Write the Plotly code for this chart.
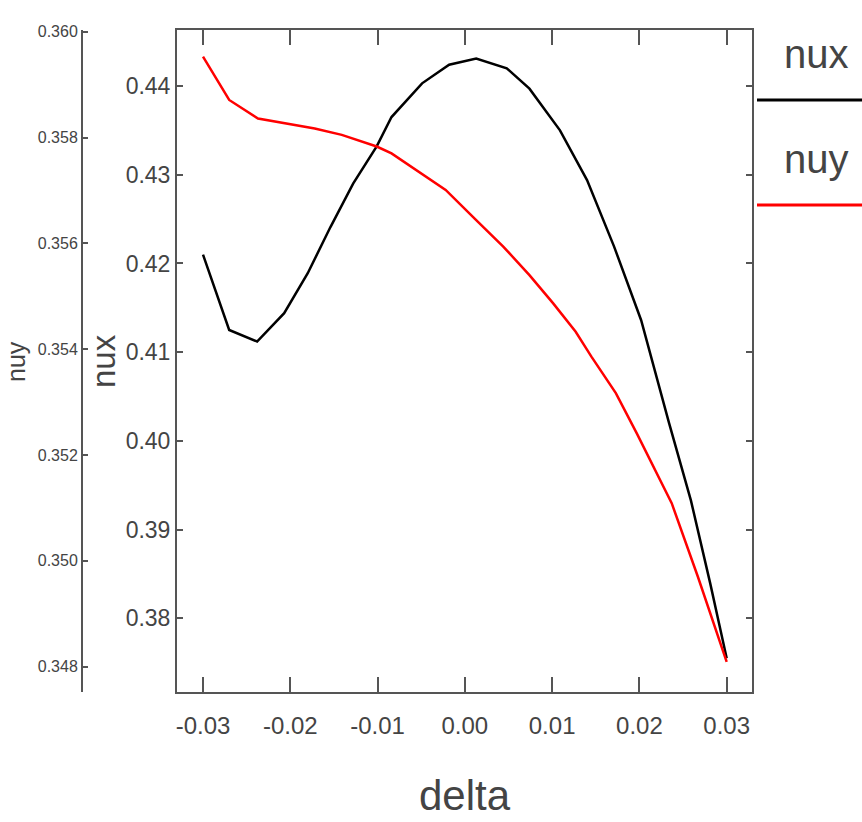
import plotly.graph_objects as go

# ---- data ----
delta_nux = [-0.0300, -0.0270, -0.0238, -0.0207, -0.0180, -0.0154, -0.0128, -0.0101,
             -0.0084, -0.0049, -0.0018, 0.0013, 0.0048, 0.0074, 0.0109, 0.0140,
             0.0171, 0.0202, 0.0234, 0.0259, 0.0281, 0.0300]
nux = [0.4210, 0.4125, 0.4112, 0.4144, 0.4189, 0.4241, 0.4290, 0.4332,
       0.4365, 0.4403, 0.4424, 0.4431, 0.4420, 0.4397, 0.4350, 0.4294,
       0.4219, 0.4136, 0.4020, 0.3933, 0.3840, 0.3755]

delta_nuy = [-0.0300, -0.0286, -0.0270, -0.0237, -0.0207, -0.0172, -0.0141, -0.0101,
             -0.0084, -0.0053, -0.0022, 0.0013, 0.0044, 0.0074, 0.0101, 0.0127,
             0.0145, 0.0173, 0.0197, 0.0237, 0.0267, 0.0300]
nuy = [0.35953, 0.35915, 0.35871, 0.35836, 0.35827, 0.35817, 0.35805, 0.35783,
       0.35770, 0.35735, 0.35701, 0.35644, 0.35594, 0.35540, 0.35487, 0.35433,
       0.35386, 0.35317, 0.35241, 0.35109, 0.34970, 0.34809]

x_ticks = [-0.03, -0.02, -0.01, 0.00, 0.01, 0.02, 0.03]
x_tick_labels = ["-0.03", "-0.02", "-0.01", "0.00", "0.01", "0.02", "0.03"]
nux_ticks = [0.38, 0.39, 0.40, 0.41, 0.42, 0.43, 0.44]
nux_tick_labels = ["0.38", "0.39", "0.40", "0.41", "0.42", "0.43", "0.44"]
nuy_ticks = [0.348, 0.350, 0.352, 0.354, 0.356, 0.358, 0.360]
nuy_tick_labels = ["0.348", "0.350", "0.352", "0.354", "0.356", "0.358", "0.360"]

W, H = 862, 822
FONT = "Liberation Sans, Arial, sans-serif"
TXT = "#444444"
AX = "#555555"

def px(x):
    return x / W

def py(y):
    return 1 - y / H

fig = go.Figure()
fig.add_trace(go.Scatter(x=delta_nux, y=nux, mode="lines", name="nux",
                         line=dict(color="black", width=2.5), xaxis="x", yaxis="y"))
fig.add_trace(go.Scatter(x=delta_nuy, y=nuy, mode="lines", name="nuy",
                         line=dict(color="#ff0000", width=2.5), xaxis="x", yaxis="y2"))

fig.update_layout(
    width=W, height=H,
    margin=dict(l=0, r=0, t=0, b=0, autoexpand=False),
    paper_bgcolor="white", plot_bgcolor="white",
    showlegend=False,
    font=dict(family=FONT, color=TXT),
    xaxis=dict(
        domain=[px(177), px(752)], range=[-0.03298, 0.03290], anchor="y",
        automargin=False,
        tickmode="array", tickvals=x_ticks, ticktext=x_tick_labels,
        ticks="inside", ticklen=15, tickwidth=1.5, tickcolor=AX,
        showline=True, linecolor=AX, linewidth=2, mirror="ticks",
        showgrid=False, zeroline=False, ticklabelstandoff=11,
        tickfont=dict(size=24, family=FONT, color=TXT),
    ),
    yaxis=dict(
        domain=[py(692), py(30)], range=[0.37170, 0.44631], anchor="x",
        automargin=False,
        tickmode="array", tickvals=nux_ticks, ticktext=nux_tick_labels,
        ticks="inside", ticklen=6, tickwidth=1.5, tickcolor=AX,
        showline=True, linecolor=AX, linewidth=2, mirror="ticks",
        showgrid=False, zeroline=False,
        tickfont=dict(size=23, family=FONT, color=TXT),
    ),
    yaxis2=dict(
        overlaying="y", anchor="free", position=px(82), side="left",
        automargin=False,
        range=[0.347522, 0.360032],
        tickmode="array", tickvals=nuy_ticks, ticktext=nuy_tick_labels,
        ticks="inside", ticklen=5, tickwidth=1.5, tickcolor=AX,
        showline=True, linecolor=AX, linewidth=2,
        showgrid=False, zeroline=False,
        tickfont=dict(size=16, family=FONT, color=TXT),
    ),
)

annots = [
    dict(text="delta", x=px(465), y=py(795), size=42, angle=0),
    dict(text="nux", x=px(104), y=py(361), size=33, angle=-90),
    dict(text="nuy", x=px(16), y=py(362), size=25, angle=-90),
    dict(text="nux", x=px(816), y=py(54), size=40, angle=0),
    dict(text="nuy", x=px(816), y=py(159), size=40, angle=0),
]
for a in annots:
    fig.add_annotation(xref="paper", yref="paper", showarrow=False,
                       xanchor="center", yanchor="middle",
                       font=dict(family=FONT, color=TXT, size=a["size"]),
                       text=a["text"], x=a["x"], y=a["y"],
                       textangle=a["angle"])

# legend sample lines
fig.add_shape(type="line", xref="paper", yref="paper",
              x0=px(757), x1=1, y0=py(100), y1=py(100),
              line=dict(color="black", width=3))
fig.add_shape(type="line", xref="paper", yref="paper",
              x0=px(757), x1=1, y0=py(205), y1=py(205),
              line=dict(color="#ff0000", width=3))

fig.write_html("out.html")
